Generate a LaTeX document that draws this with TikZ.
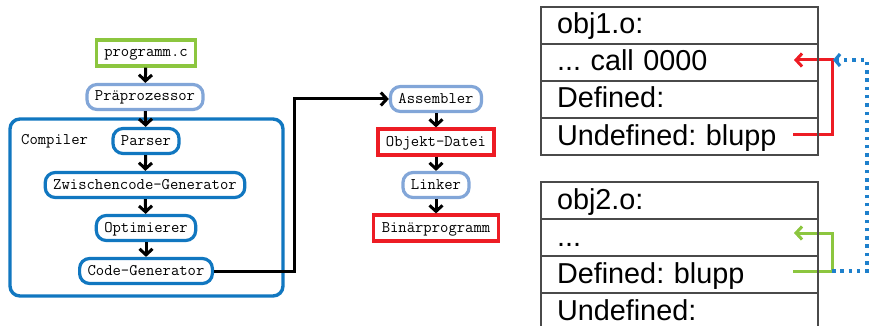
\documentclass[tikz,border=0pt]{standalone}
\usepackage{fontspec}
\newfontfamily\tabfont{Liberation Sans}
\usetikzlibrary{arrows.meta}
\definecolor{srcgreen}{HTML}{8CC63F}
\definecolor{toolblue}{HTML}{82A6D8}
\definecolor{compblue}{HTML}{1177C0}
\definecolor{outred}{HTML}{ED1C24}
\definecolor{linkblue}{HTML}{1E80CC}
\definecolor{tabgray}{HTML}{4A4A4A}
\tikzset{
  codefont/.style={font=\ttfamily\fontsize{16.2}{18}\selectfont},
  basebox/.style={codefont, line width=3.2pt, fill=white, minimum height=25pt,
    inner xsep=8pt, text height=11pt, text depth=3pt},
  toolbox/.style={basebox, draw=toolblue, rounded corners=10pt},
  compstep/.style={basebox, draw=compblue, rounded corners=10pt},
  filebox/.style={basebox, draw=#1, minimum height=26pt},
  flow/.style={line width=3pt, -{Straight Barb[length=6pt,width=13pt]}},
  rowcell/.style={draw=tabgray, line width=1.1pt, minimum width=277pt, minimum height=37pt,
    text width=277pt-32pt, align=left, inner xsep=16pt, inner ysep=0pt,
    text height=22pt, text depth=5pt, font=\tabfont\fontsize{28.8}{30}\selectfont},
  linkarrow/.style={line width=3pt, -{Straight Barb[length=6pt,width=13pt]}},
}
\begin{document}
\frenchspacing
\begin{tikzpicture}[x=1pt,y=-1pt]
\clip (0,0) rectangle (869,326);

% compiler frame
\draw[compblue, line width=3.4pt, rounded corners=10pt] (10,119) rectangle (283,296);
\node[codefont, anchor=west, inner sep=0pt] (complabel) at (21,141) {Compiler};

% translation chain
\node[filebox=srcgreen] (prog) at (146,53) {programm.c};
\node[toolbox] (prep) at (145,97) {Präprozessor};
\node[compstep] (parser) at (146,141) {Parser};
\node[compstep] (zwisch) at (145,185) {Zwischencode-Generator};
\node[compstep] (opt) at (146,228) {Optimierer};
\node[compstep] (codegen) at (146,271) {Code-Generator};

\node[toolbox] (asm) at (436,99) {Assembler};
\node[filebox=outred] (objfile) at (436,142) {Objekt-Datei};
\node[toolbox] (linker) at (436,185) {Linker};
\node[filebox=outred] (bin) at (436,228) {Binärprogramm};

\draw[flow] (prog) -- (prep);
\draw[flow] (prep) -- (parser);
\draw[flow] (parser) -- (zwisch);
\draw[flow] (zwisch) -- (opt);
\draw[flow] (opt) -- (codegen);
\draw[flow] (codegen.east) -- ++(80,0) |- (asm.west);
\draw[flow] (asm) -- (objfile);
\draw[flow] (objfile) -- (linker);
\draw[flow] (linker) -- (bin);

% symbol resolution between the two object files
\coordinate (undefEnd) at (793,134);
\coordinate (callTip) at (794,60);
\coordinate (defEnd) at (793,271);
\coordinate (dotsTip) at (794,233);
\coordinate (redJoin) at (833,60);
\coordinate (greenJoin) at (832,271);

\draw[linkarrow, outred] (undefEnd) -- (832,134) |- (callTip);
\draw[linkarrow, srcgreen] (defEnd) -- (greenJoin) |- (dotsTip);
\draw[linkblue, line width=3.2pt, dash pattern=on 3.5pt off 4.8pt,
  -{Straight Barb[length=5pt,width=12pt]}] (greenJoin) -| (867,60) -- (redJoin);

% object file tables
\node[rowcell] (o1head) at (679.5,25.5) {obj1.o:};
\node[rowcell] (o1call) at (679.5,62.5) {... call 0000};
\node[rowcell] (o1def) at (679.5,99.5) {Defined:};
\node[rowcell] (o1undef) at (679.5,136.5) {Undefined: blupp};

\node[rowcell] (o2head) at (679.5,200.5) {obj2.o:};
\node[rowcell] (o2dots) at (679.5,237.5) {...};
\node[rowcell] (o2def) at (679.5,274.5) {Defined: blupp};
\node[rowcell] (o2undef) at (679.5,311.5) {Undefined:};
\end{tikzpicture}
\end{document}
